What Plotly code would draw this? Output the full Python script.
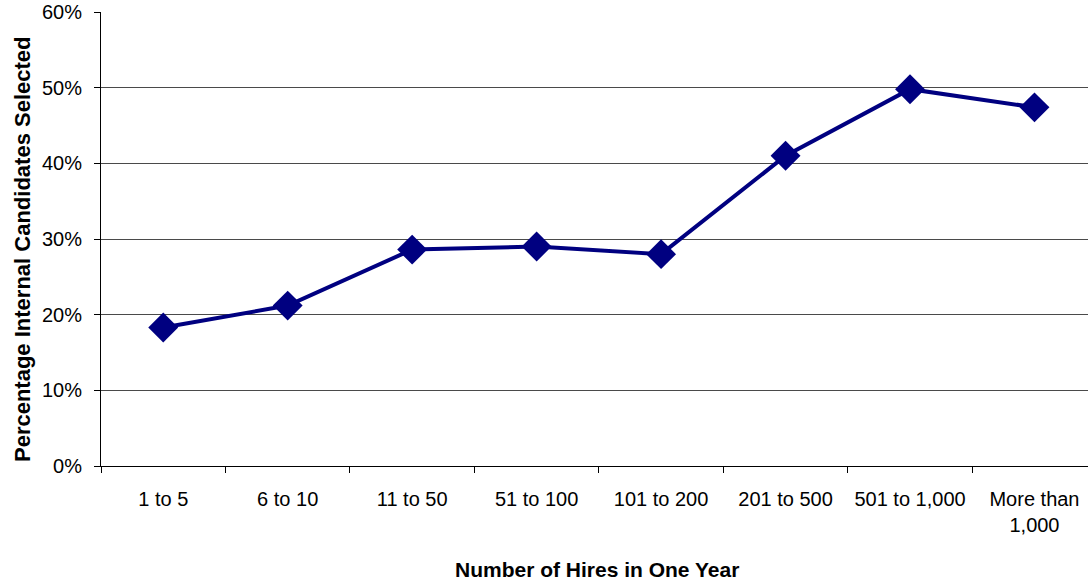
import plotly.graph_objects as go

categories = ["1 to 5", "6 to 10", "11 to 50", "51 to 100", "101 to 200",
              "201 to 500", "501 to 1,000", "More than<br>1,000"]
pct_internal = [0.183, 0.212, 0.286, 0.290, 0.280, 0.410, 0.498, 0.474]
y_ticks = [0, 0.1, 0.2, 0.3, 0.4, 0.5, 0.6]
y_tick_labels = ["0%", "10%", "20%", "30%", "40%", "50%", "60%"]
x_title = "Number of Hires in One Year"
y_title = "Percentage Internal Candidates Selected"

FONT = "Arial, 'Liberation Sans', sans-serif"
NAVY = "#000080"

fig = go.Figure()
fig.add_trace(go.Scatter(
    x=categories, y=pct_internal,
    mode="lines+markers",
    line=dict(color=NAVY, width=4),
    marker=dict(symbol="diamond", size=23, color=NAVY),
    showlegend=False,
))

fig.update_layout(
    width=1088, height=582,
    margin=dict(l=101, r=0, t=12, b=116),
    paper_bgcolor="white", plot_bgcolor="white",
    font=dict(family=FONT, color="black", size=20),
    xaxis=dict(
        type="category", categoryorder="array", categoryarray=categories,
        range=[-0.5, 7.43], tickson="boundaries",
        showgrid=False, showline=True, linecolor="black", linewidth=1,
        ticks="outside", ticklen=6, tickcolor="black",
        ticklabelstandoff=15,
        tickfont=dict(size=20),
    ),
    yaxis=dict(
        range=[0, 0.6], tickvals=y_ticks, ticktext=y_tick_labels,
        showgrid=True, gridcolor="#4a4a4a", gridwidth=1,
        showline=True, linecolor="black", linewidth=1,
        ticks="outside", ticklen=6, tickcolor="black",
        ticklabelstandoff=8,
        tickfont=dict(size=20),
        zeroline=False,
    ),
    annotations=[
        dict(text="<b>" + x_title + "</b>", xref="paper", yref="paper",
             x=0.503, y=-0.229, xanchor="center", yanchor="middle",
             showarrow=False, font=dict(size=21)),
        dict(text="<b>" + y_title + "</b>", xref="paper", yref="paper",
             x=-0.079, y=0.478, xanchor="center", yanchor="middle",
             textangle=-90, showarrow=False, font=dict(size=22)),
    ],
)
fig.write_html("out.html")
